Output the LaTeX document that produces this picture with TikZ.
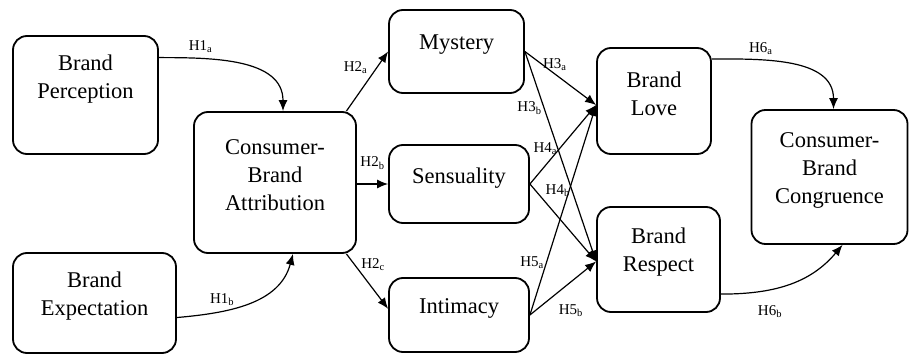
\documentclass[tikz,border=0pt]{standalone}
\usepackage{fontspec}
\setmainfont{Liberation Serif}
\usetikzlibrary{arrows.meta}

\tikzset{
  box/.style={draw, line width=1.8pt, rounded corners=14pt, inner sep=0pt},
  boxtext/.style={align=center, inner sep=0pt, font=\fontsize{22.5}{28}\selectfont},
  arr/.style={line width=1.2pt, -{Latex[length=11pt,width=9pt]}},
  hyp/.style={inner sep=2pt, font=\fontsize{15}{17}\selectfont},
}
\newcommand{\hname}[2]{H#1\textsubscript{#2}}

\begin{document}
\begin{tikzpicture}[x=1pt,y=-1pt]
\useasboundingbox (0,0) rectangle (909,355);
% antecedents
\node[box, minimum width=145pt, minimum height=118pt] (bp) at (85.5,95) {};
\node[boxtext] (bp-t) at ([yshift=16pt]bp.center) {Brand\\Perception};
\node[box, minimum width=163pt, minimum height=100pt] (be) at (94.5,303) {};
\node[boxtext] (be-t) at ([yshift=7pt]be.center) {Brand\\Expectation};
\node[box, minimum width=162pt, minimum height=141pt] (cba) at (275,182.5) {};
\node[boxtext] (cba-t) at ([yshift=7pt]cba.center) {Consumer-\\Brand\\Attribution};
% dimensions
\node[box, minimum width=135pt, minimum height=83pt] (mys) at (456.5,51.5) {};
\node[boxtext] (mys-t) at ([yshift=7pt]mys.center) {Mystery};
\node[box, minimum width=140pt, minimum height=78pt] (sen) at (459,184) {};
\node[boxtext] (sen-t) at ([yshift=6pt]sen.center) {Sensuality};
\node[box, minimum width=140pt, minimum height=74pt] (int) at (459,315) {};
\node[boxtext] (int-t) at ([yshift=7pt]int.center) {Intimacy};
% outcomes
\node[box, minimum width=114pt, minimum height=106pt] (bl) at (654,101) {};
\node[boxtext] (bl-t) at ([yshift=7pt]bl.center) {Brand\\Love};
\node[box, minimum width=123pt, minimum height=105pt] (br) at (658.5,259.5) {};
\node[boxtext] (br-t) at ([yshift=7pt]br.center) {Brand\\Respect};
\node[box, minimum width=156pt, minimum height=134pt] (cg) at (829.5,177) {};
\node[boxtext] (cg-t) at ([yshift=7pt]cg.center) {Consumer-\\Brand\\Congruence};

\coordinate (bl-in) at ([yshift=-4pt]bl.west);
\coordinate (br-in) at ([yshift=-2pt]br.west);

% H1
\draw[arr] (bp.27) to[out=0,in=90] node[hyp, pos=.25, above=3pt] (h1a) {\hname{1}{a}} ([xshift=8pt]cba.north);
\draw[arr] (be.-10) to[out=5,in=-105] node[hyp, pos=.3, above=3pt] (h1b) {\hname{1}{b}} ([xshift=18pt]cba.south);
% H2
\draw[arr] (cba.45) -- node[hyp, pos=.73, left=7pt] (h2a) {\hname{2}{a}} (mys.west);
\draw[arr] (sen.west -| cba.east) -- node[hyp, pos=.5, above=12pt] (h2b) {\hname{2}{b}} (sen.west);
\draw[arr] (cba.-45) -- node[hyp, pos=.2, right=4pt] (h2c) {\hname{2}{c}} (int.175);
% H3 - H5
\draw[arr] (mys.east) -- node[hyp, pos=.42, above=1pt] (h3a) {\hname{3}{a}} (bl-in);
\draw[arr] (mys.east) -- node[hyp, pos=.27, left=0pt] (h3b) {\hname{3}{b}} (br-in);
\draw[arr] (sen.east) -- node[hyp, pos=.45, left=0pt] (h4a) {\hname{4}{a}} (bl-in);
\draw[arr] (sen.east) -- node[hyp, pos=.2, above right=0pt] (h4b) {\hname{4}{b}} (br-in);
\draw[arr] (int.east) -- node[hyp, pos=.25, left=0pt] (h5a) {\hname{5}{a}} (bl-in);
\draw[arr] (int.east) -- node[hyp, pos=.62, below=20pt] (h5b) {\hname{5}{b}} (br-in);
% H6
\draw[arr] (bl.36) to[out=0,in=90] node[hyp, pos=.3, above=3pt] (h6a) {\hname{6}{a}} ([xshift=4pt]cg.north);
\draw[arr] (br.-29) to[out=0,in=-130] node[hyp, pos=.35, below=13pt] (h6b) {\hname{6}{b}} ([xshift=13pt]cg.south);
\end{tikzpicture}
\end{document}
